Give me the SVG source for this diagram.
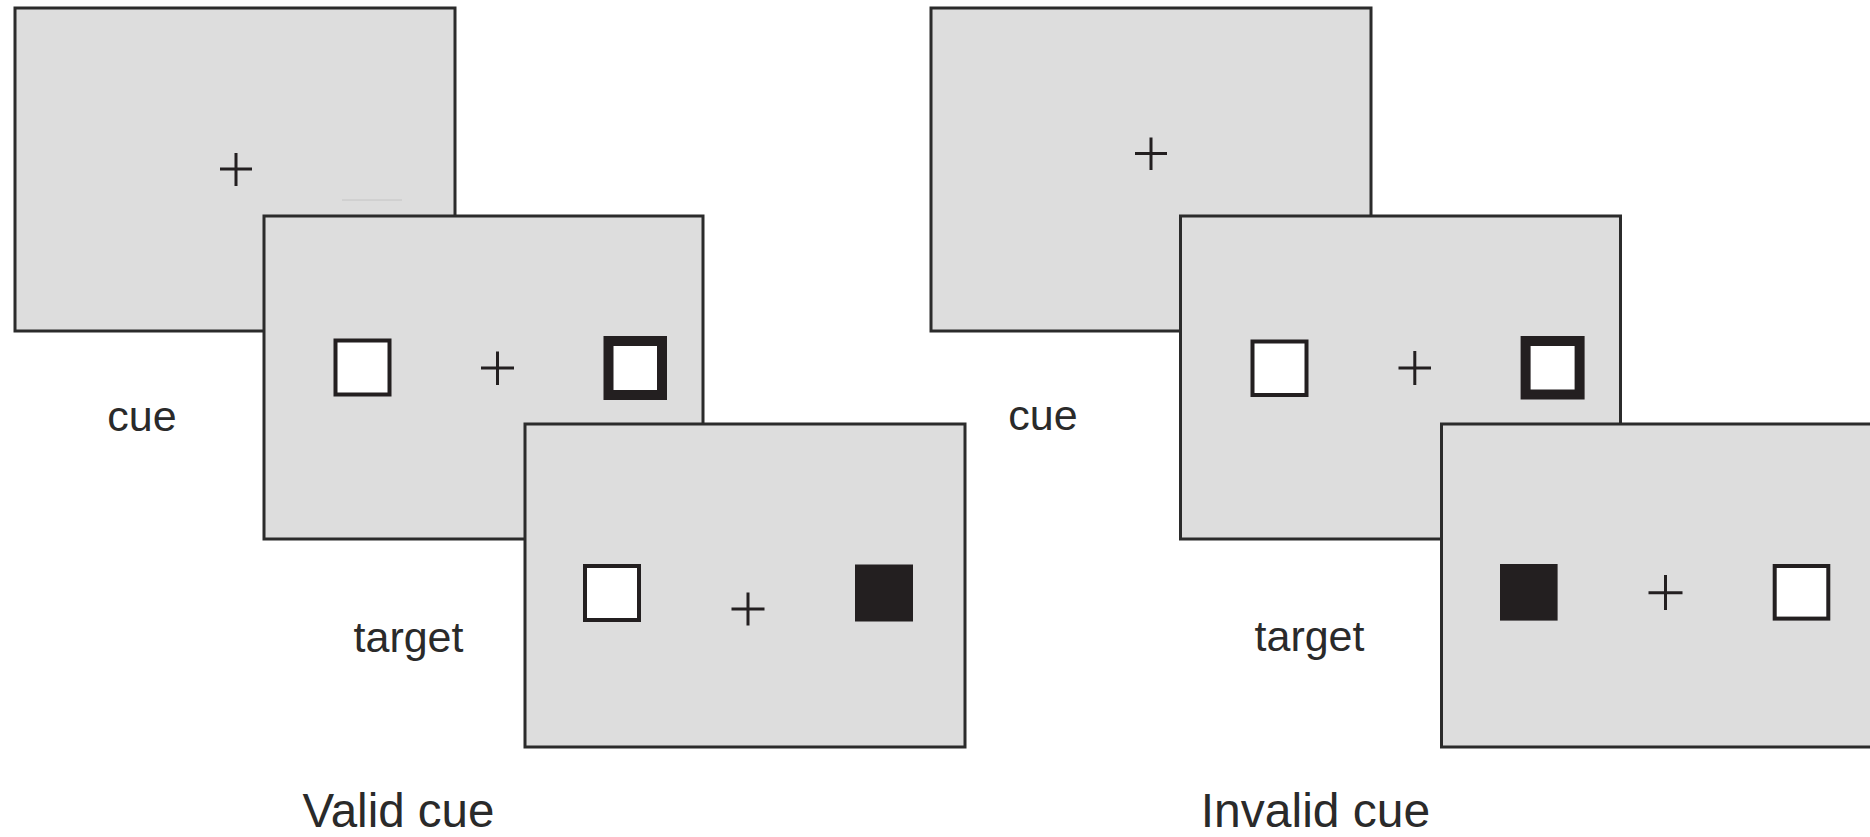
<svg xmlns="http://www.w3.org/2000/svg" width="1870" height="837" viewBox="0 0 1870 837">
<style>
.scr{fill:#dddddd;stroke:#2b2b2b;stroke-width:3}
.box{fill:#ffffff;stroke:#231f20;stroke-width:4}
.thick{fill:#ffffff;stroke:#231f20;stroke-width:10}
.fill{fill:#231f20}
.cross{stroke:#231f20;stroke-width:3;fill:none}
.lbl{font-family:"Liberation Sans",Arial,Helvetica,sans-serif;font-size:43px;fill:#2a2a2a;text-anchor:middle}
.ttl{font-family:"Liberation Sans",Arial,Helvetica,sans-serif;font-size:47.5px;fill:#2a2a2a;text-anchor:middle}
</style>
<rect width="1870" height="837" fill="#ffffff"/>
<g id="valid-fixation">
<rect class="scr" x="15" y="8" width="440" height="323"/>
<path class="cross" d="M220 169H252M236 153V186"/>
<line x1="342" y1="200" x2="402" y2="200" stroke="#c4c4c4" stroke-width="1"/>
</g>
<g id="valid-cue">
<rect class="scr" x="264" y="216" width="439" height="323"/>
<rect class="box" x="335.5" y="340.5" width="54" height="54"/>
<path class="cross" d="M481 368H514M497.5 351.5V385"/>
<rect class="thick" x="608.5" y="341" width="53.5" height="54"/>
</g>
<g id="valid-target">
<rect class="scr" x="525" y="424" width="440" height="323"/>
<rect class="box" x="585" y="566" width="54" height="54"/>
<path class="cross" d="M731.5 609H764.5M748 592.5V625.5"/>
<rect class="fill" x="855" y="564.5" width="58" height="57"/>
</g>
<g id="invalid-fixation">
<rect class="scr" x="931" y="8" width="440" height="323"/>
<path class="cross" d="M1135 153.5H1167M1151 137.5V170"/>
</g>
<g id="invalid-cue">
<rect class="scr" x="1180.5" y="216" width="440" height="323"/>
<rect class="box" x="1252.5" y="341.5" width="54" height="53.5"/>
<path class="cross" d="M1398.5 368H1431M1414.8 351V385"/>
<rect class="thick" x="1525.6" y="341" width="54" height="53.5"/>
</g>
<g id="invalid-target">
<rect class="scr" x="1441.5" y="424" width="440" height="323"/>
<rect class="fill" x="1500" y="564" width="57.6" height="56.6"/>
<path class="cross" d="M1648.5 592.7H1682.5M1665.5 575V610"/>
<rect class="box" x="1774.7" y="566" width="53.6" height="52.6"/>
</g>
<g id="connectors"></g>
<g id="labels">
<text class="lbl" x="142" y="431">cue</text>
<text class="lbl" x="408.5" y="652">target</text>
<text class="ttl" x="398.5" y="827">Valid cue</text>
<text class="lbl" x="1043" y="430">cue</text>
<text class="lbl" x="1309.5" y="651">target</text>
<text class="ttl" x="1315.5" y="827" style="font-size:48px">Invalid cue</text>
</g>
</svg>
